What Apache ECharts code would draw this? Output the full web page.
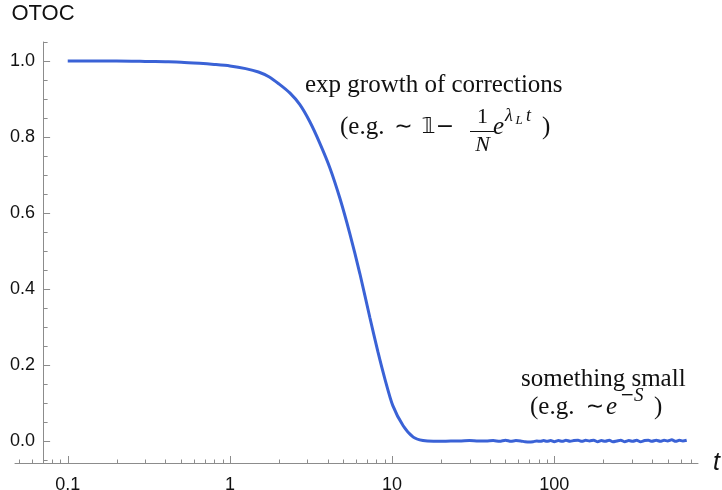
<!DOCTYPE html>
<html>
<head>
<meta charset="utf-8">
<title>OTOC</title>
<script src="https://cdn.jsdelivr.net/npm/echarts@6/dist/echarts.min.js"></script>
<style>
  html, body { margin: 0; padding: 0; background: #ffffff; }
  #chart { width: 722px; height: 490px; }
</style>
</head>
<body>
<div id="chart"></div>
<script>
// Time samples (log axis) and OTOC values of the decay curve
const tValues = [
  0.1, 0.15, 0.2, 0.3, 0.4, 0.5, 0.65, 0.8, 1.0, 1.25, 1.5, 1.75, 2.0, 2.34, 2.7,
  3.11, 3.58, 4.14, 4.77, 5.49, 6.33, 7.29, 8.17, 9.03, 10.1, 11.7, 13.5, 15.5,
  18, 20, 23, 26, 30, 34, 38, 42, 46, 50, 54, 58, 62, 66, 70, 74, 78, 82, 86, 90,
  95, 100, 106, 112, 118, 125, 132, 140, 148, 156, 165, 175, 185, 195, 206, 218,
  230, 243, 257, 272, 288, 305, 322, 340, 360, 380, 400, 425, 450, 475, 500, 530,
  560, 590, 620, 655
];
const otocValues = [
  1.000, 1.000, 1.000, 0.999, 0.998, 0.997, 0.994, 0.991, 0.987, 0.980, 0.971, 0.958, 0.940, 0.916, 0.885,
  0.840, 0.784, 0.718, 0.638, 0.545, 0.440, 0.325, 0.235, 0.163, 0.093, 0.040, 0.010, 0.001,
  -0.001, -0.001, 0.000, 0.000, 0.001, 0.000, 0.000, 0.001, -0.001, 0.002, -0.001, 0.001, 0.000, -0.002, -0.003, -0.002, 0.000, -0.001, 0.001, -0.001,
  0.001, -0.002, 0.001, -0.001, 0.002, -0.001, 0.001, 0.002, -0.001, 0.002, 0.000, 0.002, -0.002, 0.001, -0.001, 0.002,
  -0.002, 0.000, 0.002, -0.002, 0.001, -0.001, 0.002, -0.002, 0.001, 0.002, -0.001, 0.002, -0.001, 0.002, 0.000, 0.003,
  -0.001, 0.002, 0.000, 0.002
];

// Axis ranges and tick positions
const X_MIN = 0.0473, X_MAX = 769;
const Y_MIN = -0.058, Y_MAX = 1.05;
const Y_AXIS_AT = 0.0705;           // t value where the vertical axis crosses
const xMajorTicks = [0.1, 1, 10, 100];
const xMinorTicks = [
  0.05, 0.06, 0.07, 0.08, 0.09,
  0.2, 0.3, 0.4, 0.5, 0.6, 0.7, 0.8, 0.9,
  2, 3, 4, 5, 6, 7, 8, 9,
  20, 30, 40, 50, 60, 70, 80, 90,
  200, 300, 400, 500, 600, 700
];
const yMajorTicks = [0.0, 0.2, 0.4, 0.6, 0.8, 1.0];
const yMinorTicks = [-0.05, 0.05, 0.1, 0.15, 0.25, 0.3, 0.35, 0.45, 0.5, 0.55, 0.65, 0.7, 0.75, 0.85, 0.9, 0.95, 1.05];

const AXIS_GRAY = '#8c8c8c';
const CURVE_BLUE = '#3a62d6';
const SANS = '"Liberation Sans", Arial, sans-serif';
const SERIF = '"Liberation Serif", "DejaVu Serif", serif';
const MATHSYM = '"DejaVu Sans", "Noto Sans", sans-serif';

// tick records: [x, y, kind]  kind 0/1 = x major/minor, 2/3 = y major/minor
const tickData = []
  .concat(xMajorTicks.map(v => [v, Y_MIN, 0]))
  .concat(xMinorTicks.map(v => [v, Y_MIN, 1]))
  .concat(yMajorTicks.map(v => [Y_AXIS_AT, v, 2]))
  .concat(yMinorTicks.map(v => [Y_AXIS_AT, v, 3]));

function logLabel(v) {
  const lg = Math.log10(v);
  const e = Math.round(lg);
  if (Math.abs(lg - e) > 1e-6) return '';
  return e < 0 ? Number(Math.pow(10, e)).toFixed(-e) : String(Math.round(Math.pow(10, e)));
}

const chart = echarts.init(document.getElementById('chart'), null, { renderer: 'canvas' });

function txt(x, y, text, font, align) {
  return {
    type: 'text', x: x, y: y, silent: true,
    style: { text: text, font: font, fill: '#111', align: align || 'left', verticalAlign: 'middle' }
  };
}

const option = {
  animation: false,
  backgroundColor: '#ffffff',
  grid: { left: 15, right: 24, top: 42, bottom: 27, containLabel: false, outerBoundsMode: 'none' },
  xAxis: {
    type: 'log',
    logBase: 10,
    min: X_MIN,
    max: X_MAX,
    axisLine: { show: true, onZero: false, lineStyle: { color: AXIS_GRAY, width: 1 } },
    axisTick: { show: false },
    splitLine: { show: false },
    minorTick: { show: false },
    axisLabel: {
      show: true, margin: 13, color: '#111', fontFamily: SANS, fontSize: 18,
      showMinLabel: false, showMaxLabel: false,
      formatter: logLabel
    },
    name: 't',
    nameLocation: 'end',
    nameGap: 15,
    nameTextStyle: { fontFamily: SANS, fontStyle: 'italic', fontSize: 25, color: '#111', verticalAlign: 'middle' }
  },
  yAxis: {
    type: 'value',
    min: Y_MIN,
    max: Y_MAX,
    offset: -28,
    axisLine: { show: true, onZero: false, lineStyle: { color: AXIS_GRAY, width: 1 } },
    axisTick: { show: false },
    splitLine: { show: false },
    axisLabel: {
      show: true, margin: 8, color: '#111', fontFamily: SANS, fontSize: 18,
      showMinLabel: false, showMaxLabel: false,
      formatter: v => (Math.abs(v * 5 - Math.round(v * 5)) < 1e-6 ? v.toFixed(1) : '')
    },
    name: 'OTOC',
    nameLocation: 'end',
    nameGap: 17,
    nameTextStyle: { fontFamily: SANS, fontSize: 22, color: '#111', align: 'center' }
  },
  series: [
    {
      name: 'ticks',
      type: 'custom',
      coordinateSystem: 'cartesian2d',
      silent: true,
      clip: false,
      encode: { x: 0, y: 1 },
      data: tickData,
      renderItem: function (params, api) {
        const kind = api.value(2);
        const p = api.coord([api.value(0), api.value(1)]);
        let shape;
        if (kind < 2) {
          const len = kind === 0 ? 7 : 3.5;
          const x = Math.round(p[0]) + 0.5;
          shape = { x1: x, y1: p[1], x2: x, y2: p[1] - len };
        } else {
          const len = kind === 2 ? 7 : 4.5;
          const y = Math.round(p[1]) + 0.5;
          shape = { x1: p[0], y1: y, x2: p[0] + len, y2: y };
        }
        return { type: 'line', shape: shape, style: { stroke: AXIS_GRAY, lineWidth: 1 } };
      }
    },
    {
      name: 'OTOC',
      type: 'line',
      showSymbol: false,
      smooth: 0.25,
      clip: false,
      lineStyle: { color: CURVE_BLUE, width: 3 },
      data: tValues.map((t, i) => [t, otocValues[i]]),
      z: 5
    }
  ],
  graphic: [
    // upper annotation
    txt(305, 85.5, 'exp growth of corrections', '25px ' + SERIF),
    txt(340, 127.5, '(e.g.', '25px ' + SERIF),
    txt(403.5, 127.5, '\u223C', '22px ' + MATHSYM, 'center'),
    txt(428.5, 127.5, '\uD835\uDFD9', '22px ' + MATHSYM, 'center'),
    txt(445, 127.5, '\u2212', '22px ' + MATHSYM, 'center'),
    txt(482.5, 117.5, '1', '22px ' + SERIF, 'center'),
    {
      type: 'line', silent: true,
      shape: { x1: 470, y1: 131.5, x2: 494, y2: 131.5 },
      style: { stroke: '#111', lineWidth: 1 }
    },
    txt(482.5, 145, 'N', 'italic 22px ' + SERIF, 'center'),
    txt(493, 127.5, 'e', 'italic 25px ' + SERIF),
    txt(505, 116, '\u03BB', 'italic 18px ' + SERIF),
    txt(515.5, 121, 'L', 'italic 13px ' + SERIF),
    txt(526, 116, 't', 'italic 18px ' + SERIF),
    txt(542, 127.5, ')', '25px ' + SERIF),
    // lower annotation
    txt(521, 379.5, 'something small', '25px ' + SERIF),
    txt(530, 407.5, '(e.g.', '25px ' + SERIF),
    txt(595, 407.5, '\u223C', '22px ' + MATHSYM, 'center'),
    txt(606, 407.5, 'e', 'italic 25px ' + SERIF),
    txt(620, 396, '\u2212', '17px ' + MATHSYM),
    txt(634, 396, 'S', 'italic 19px ' + SERIF),
    txt(654, 407.5, ')', '25px ' + SERIF)
  ]
};

chart.setOption(option);
</script>
</body>
</html>
